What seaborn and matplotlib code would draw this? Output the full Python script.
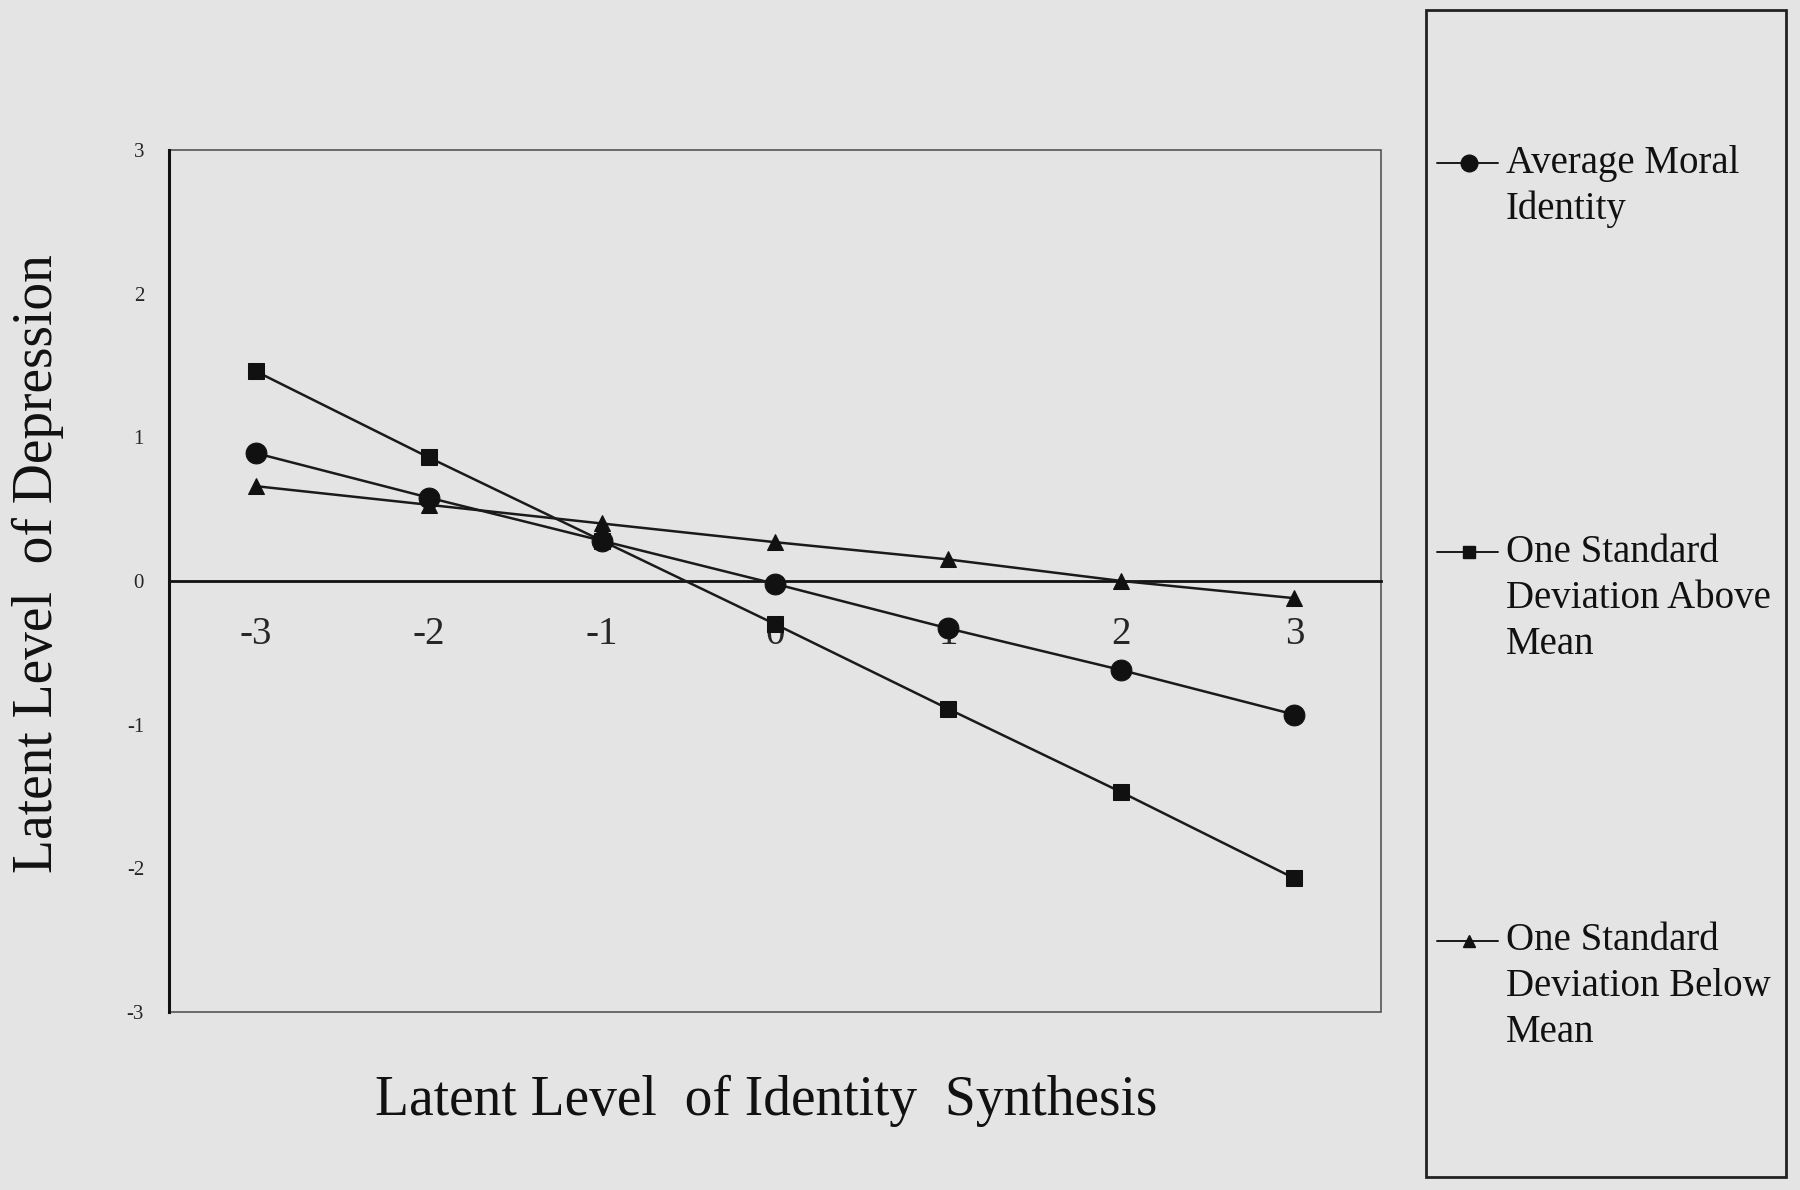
import numpy as np
import pandas as pd
import matplotlib
matplotlib.use('Agg')
import matplotlib.pyplot as plt
from matplotlib.patches import Rectangle
from matplotlib.lines import Line2D
import seaborn as sns

# 数据
x_levels = [-3, -2, -1, 0, 1, 2, 3]
avg_moral = [0.89, 0.58, 0.28, -0.02, -0.33, -0.62, -0.93]
sd_above = [1.46, 0.86, 0.28, -0.30, -0.89, -1.47, -2.07]
sd_below = [0.66, 0.53, 0.40, 0.27, 0.15, 0.00, -0.12]
series_names = ['Average Moral\nIdentity',
                'One Standard\nDeviation Above\nMean',
                'One Standard\nDeviation Below\nMean']

bg = '#e4e4e4'
sns.set_style('white')
plt.rcParams['font.family'] = ['Liberation Serif', 'DejaVu Serif']

df = pd.DataFrame({
    'x': x_levels * 3,
    'y': avg_moral + sd_above + sd_below,
    'series': [series_names[0]] * 7 + [series_names[1]] * 7 + [series_names[2]] * 7,
})

fig = plt.figure(figsize=(18, 11.9), dpi=100, facecolor=bg)
ax = fig.add_axes([0.0939, 0.1496, 0.6733, 0.7244])
ax.set_facecolor(bg)

# 绘制顺序: 方块 -> 三角 -> 圆点 (圆点在最上层)
styles = {series_names[1]: ('s', 12), series_names[2]: ('^', 12), series_names[0]: ('o', 15)}
for name in [series_names[1], series_names[2], series_names[0]]:
    mk, ms = styles[name]
    sns.lineplot(data=df[df['series'] == name], x='x', y='y', ax=ax,
                 color='#1a1a1a', lw=1.8, marker=mk, markersize=ms,
                 markeredgecolor='#111111', markerfacecolor='#111111',
                 legend=False, zorder=3)

ax.set_xlim(-3.5, 3.5)
ax.set_ylim(-3, 3)

# 坐标轴样式
for s in ['top', 'right']:
    ax.spines[s].set_visible(False)
ax.spines['left'].set_color('#111111')
ax.spines['left'].set_linewidth(2.2)
ax.spines['bottom'].set_position(('data', 0))
ax.spines['bottom'].set_color('#111111')
ax.spines['bottom'].set_linewidth(2.0)
ax.add_patch(Rectangle((0, 0), 1, 1, transform=ax.transAxes, fill=False,
                       edgecolor='#555555', lw=1.2, clip_on=False, zorder=1))

ax.set_xticks(x_levels)
ax.set_xticklabels([str(v) for v in x_levels], fontsize=28)
ax.set_xticks(np.arange(-2.5, 3.0, 1.0), minor=True)
ax.tick_params(axis='x', which='major', length=0, pad=25)
ax.tick_params(axis='x', which='minor', length=9, width=1.6, direction='out', color='#222222')

ax.set_yticks(range(-3, 4))
ax.set_yticklabels([str(v) for v in range(-3, 4)], fontsize=15)
ax.tick_params(axis='y', length=8, width=1.6, direction='out', color='#222222', pad=10)

ax.set_xlabel('Latent Level  of Identity  Synthesis', fontsize=40, color='#111111')
ax.xaxis.set_label_coords(0.493, -0.073)
ax.set_ylabel('Latent Level  of Depression', fontsize=40, color='#111111')
ax.yaxis.set_label_coords(-0.087, 0.52)

# 图例框
fig.add_artist(Rectangle((0.792, 0.011), 0.2, 0.981, transform=fig.transFigure,
                         fill=False, edgecolor='#222222', lw=2))
leg_y = [1 - 163 / 1190, 1 - 552 / 1190, 1 - 941 / 1190]
leg_mk = [('o', 12), ('s', 9), ('^', 9)]
line_h = 46 / 1190
for name, yy, (mk, ms) in zip(series_names, leg_y, leg_mk):
    fig.add_artist(Line2D([1437 / 1800, 1498 / 1800], [yy, yy], transform=fig.transFigure,
                          color='#1a1a1a', lw=1.4, marker=None))
    fig.add_artist(Line2D([1469 / 1800], [yy], transform=fig.transFigure,
                          color='#111111', marker=mk, markersize=ms, lw=0))
    for k, line in enumerate(name.split('\n')):
        fig.text(1506 / 1800, yy - k * line_h, line, fontsize=28,
                 va='center', ha='left', color='#111111')

plt.savefig('out.png', dpi=100, facecolor=bg)
